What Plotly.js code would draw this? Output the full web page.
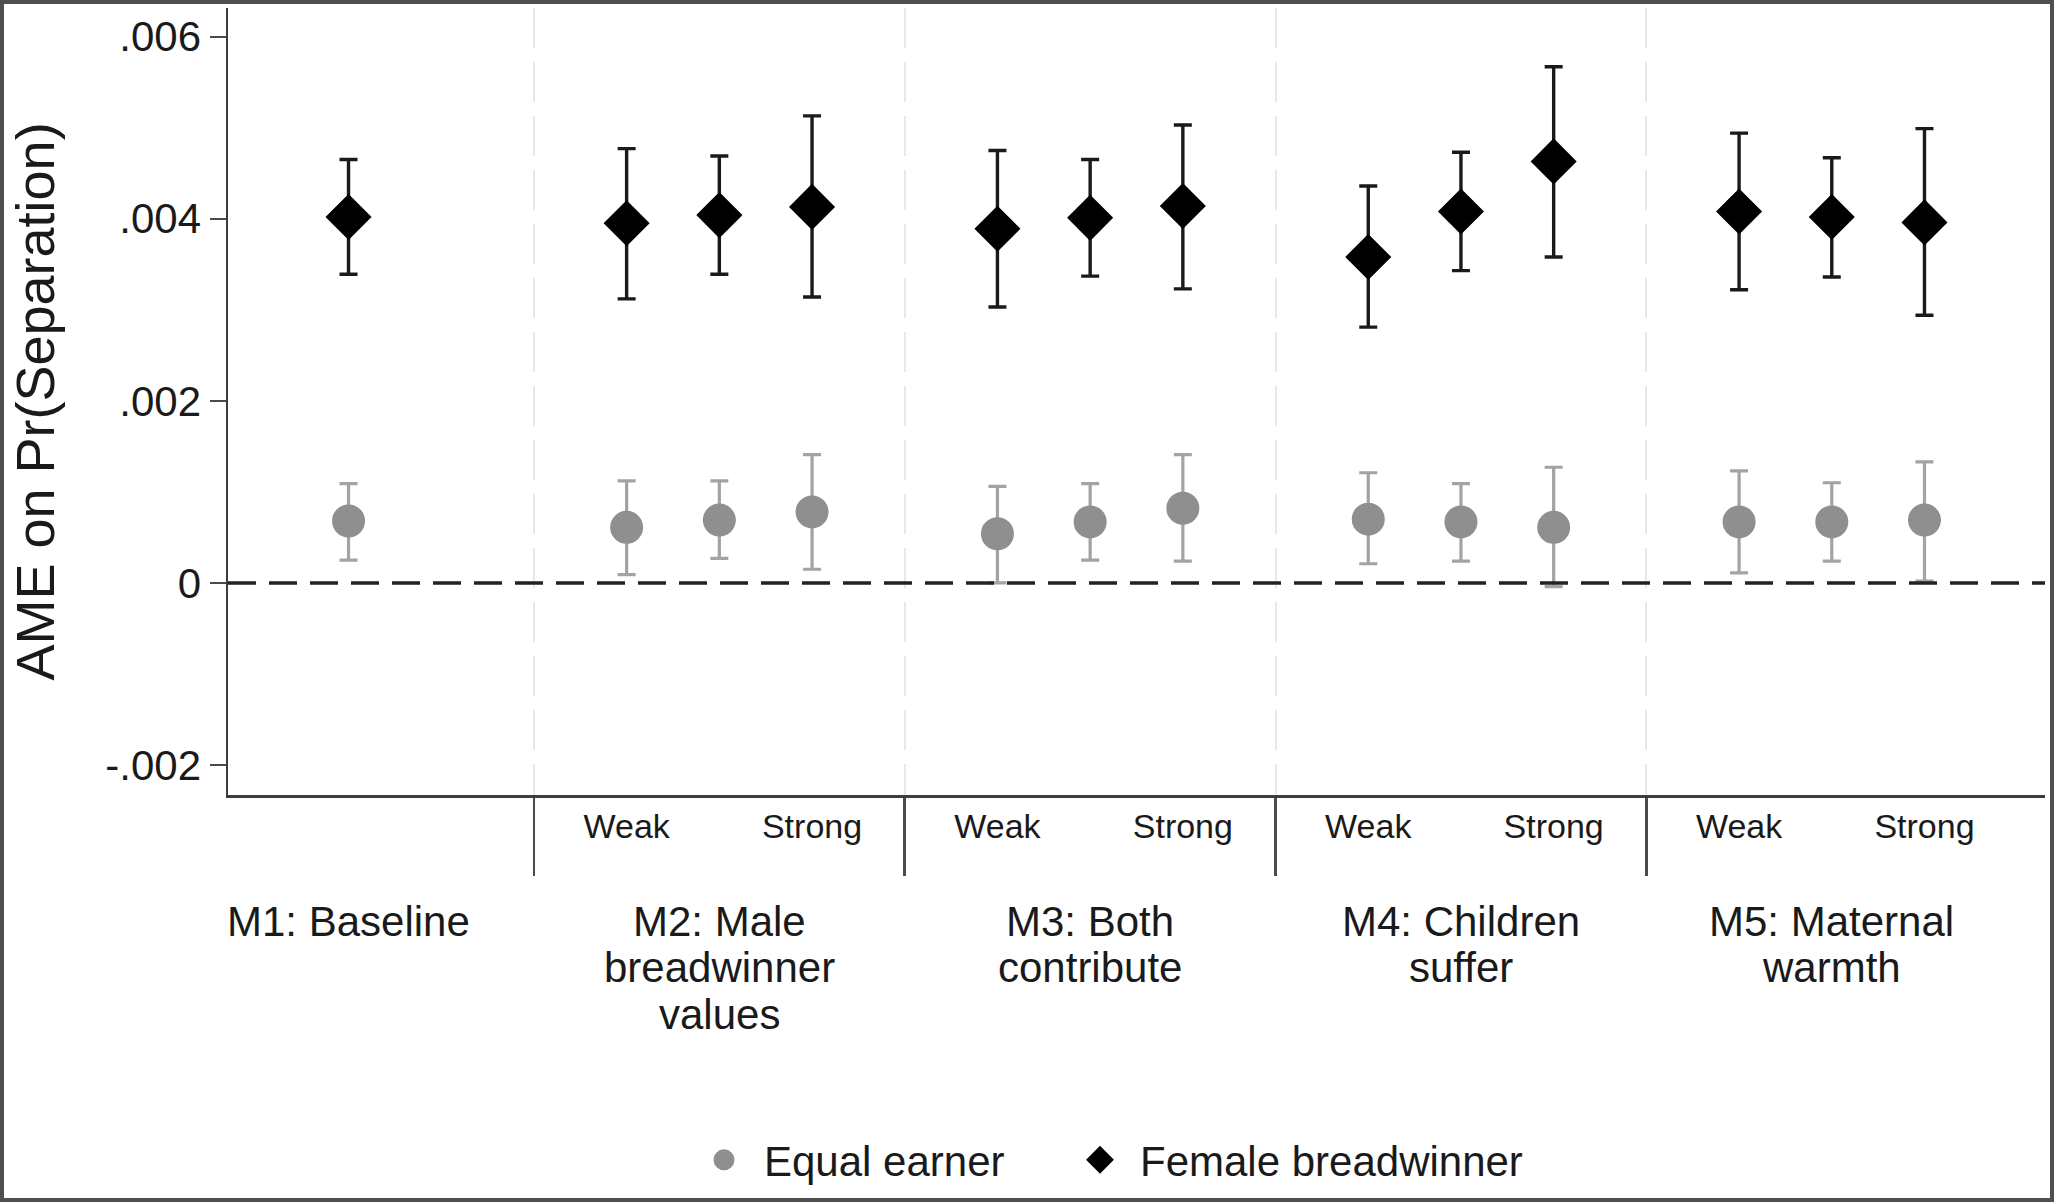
<!DOCTYPE html>
<html>
<head>
<meta charset="utf-8">
<script src="https://cdn.plot.ly/plotly-3.0.1.min.js"></script>
<style>
  html, body { margin: 0; padding: 0; background: #fff; }
  #chart { width: 2054px; height: 1202px; }
  #frame { position: absolute; left: 0; top: 0; width: 2054px; height: 1202px;
           box-sizing: border-box; border: 4px solid #4f4f4f; pointer-events: none; }
</style>
</head>
<body>
<div id="chart"></div>
<div id="frame"></div>
<script>
// model groups, each label split in the lines used in the figure
var groupLabels = [
  ["M1: Baseline"],
  ["M2: Male", "breadwinner", "values"],
  ["M3: Both", "contribute"],
  ["M4: Children", "suffer"],
  ["M5: Maternal", "warmth"]
];
// attitude strength inside M2-M5 (middle one has no label)
var strengthLevels = ["Weak", "", "Strong"];

// y axis ticks
var yTickVals = [0.006, 0.004, 0.002, 0, -0.002];
var yTickText = [".006", ".004", ".002", "0", "-.002"];

// order: M1, M2 weak/mid/strong, M3 ..., M4 ..., M5 ...
var equalEst = [0.00068, 0.00061, 0.00069, 0.00078, 0.00054, 0.00067, 0.00082, 0.00070, 0.00067, 0.00061, 0.00067, 0.00067, 0.00069];
var equalLo  = [0.00025, 0.00009, 0.00027, 0.00015, 0.00000, 0.00025, 0.00024, 0.00021, 0.00024, -0.00004, 0.00011, 0.00024, 0.00002];
var equalHi  = [0.00109, 0.00112, 0.00112, 0.00141, 0.00106, 0.00109, 0.00141, 0.00121, 0.00109, 0.00127, 0.00123, 0.00110, 0.00133];

var femaleEst = [0.00402, 0.00395, 0.00404, 0.00413, 0.00389, 0.00401, 0.00414, 0.00358, 0.00408, 0.00463, 0.00408, 0.00402, 0.00396];
var femaleLo  = [0.00339, 0.00312, 0.00339, 0.00314, 0.00303, 0.00337, 0.00323, 0.00281, 0.00343, 0.00358, 0.00322, 0.00336, 0.00294];
var femaleHi  = [0.00465, 0.00477, 0.00469, 0.00513, 0.00475, 0.00465, 0.00503, 0.00436, 0.00473, 0.00567, 0.00494, 0.00467, 0.00499];

var seriesNames = ["Equal earner", "Female breadwinner"];

// x slot of each estimate: group g sits around 4*g, strength levels one step apart
var xPos = [], tickVals = [], tickText = [], dividers = [];
groupLabels.forEach(function(lab, g){
    if (g == 0){
        xPos.push(0);
        return;
    }
    dividers.push(4*g - 2);
    strengthLevels.forEach(function(s, j){
        var p = 4*g - 1 + j;
        xPos.push(p);
        if (s != ""){
            tickVals.push(p);
            tickText.push(s);
        }
    });
});

var font = "Liberation Sans, Arial, sans-serif";
var ink = "#1a1a1a";

var diff = function(a, b){
    return a.map(function(v, i){ return v - b[i]; });
};

var equal = {
    x: xPos, y: equalEst, name: seriesNames[0], legend: "legend",
    type: "scatter", mode: "markers",
    marker: { symbol: "circle", size: 28, color: "#8f8f8f", line: { color: "#8f8f8f", width: 5 } },
    error_y: { type: "data", symmetric: false, array: diff(equalHi, equalEst), arrayminus: diff(equalEst, equalLo),
               color: "#a3a3a3", thickness: 3.2, width: 9 }
};
var female = {
    x: xPos, y: femaleEst, name: seriesNames[1], legend: "legend2",
    type: "scatter", mode: "markers",
    marker: { symbol: "diamond", size: 30, color: "#000", line: { color: "#000", width: 5 } },
    error_y: { type: "data", symmetric: false, array: diff(femaleHi, femaleEst), arrayminus: diff(femaleEst, femaleLo),
               color: "#1a1a1a", thickness: 3.4, width: 9 }
};

// plot area in px, used to turn label rows into paper coords
var plotLeft = 228, plotRight = 2045, plotTop = 8, plotBottom = 795;
var plotH = plotBottom - plotTop, plotW = plotRight - plotLeft;
var toPaperY = function(px){ return (plotBottom - px) / plotH; };
var toPaperX = function(px){ return (px - plotLeft) / plotW; };

var annotations = [];
groupLabels.forEach(function(lines, g){
    lines.forEach(function(t, i){
        annotations.push({
            x: 4*g, xref: "x", y: toPaperY(921 + 46.5*i), yref: "paper",
            text: t, showarrow: false, xanchor: "center", yanchor: "middle",
            font: { family: font, size: 42, color: ink }
        });
    });
});

var legendStyle = function(leftPx){
    return {
        orientation: "h", x: toPaperX(leftPx), xanchor: "left", y: toPaperY(1160), yanchor: "middle",
        font: { family: font, size: 42, color: ink }, itemwidth: 70, bgcolor: "rgba(0,0,0,0)"
    };
};

var layout = {
    width: 2054, height: 1202,
    margin: { l: plotLeft, r: 2054 - plotRight, t: plotTop, b: 1202 - plotBottom },
    paper_bgcolor: "#fff", plot_bgcolor: "#fff",
    font: { family: font, color: ink },
    showlegend: true,
    legend: legendStyle(684),
    legend2: legendStyle(1060),
    xaxis: {
        range: [-1.3, 18.3], showgrid: false, zeroline: false,
        showline: true, linecolor: "#3c3c3c", linewidth: 2.5,
        tickmode: "array", tickvals: tickVals, ticktext: tickText, ticks: "",
        tickfont: { family: font, size: 34, color: ink }, ticklabelstandoff: 0,
        minor: { tickmode: "array", tickvals: dividers, ticks: "outside", ticklen: 78, tickwidth: 2.5,
                 tickcolor: "#4a4a4a", showgrid: true, gridcolor: "#e8e8e8", gridwidth: 2, griddash: "40px,14px" }
    },
    yaxis: {
        range: [-0.00233, 0.006315], showgrid: false, zeroline: false,
        showline: true, linecolor: "#3c3c3c", linewidth: 2.5,
        tickmode: "array", tickvals: yTickVals, ticktext: yTickText,
        ticks: "outside", ticklen: 16, tickwidth: 2, tickcolor: "#4a4a4a",
        tickfont: { family: font, size: 42, color: ink },
        title: { text: "AME on Pr(Separation)", font: { family: font, size: 54, color: ink }, standoff: 34 }
    },
    shapes: [{
        type: "line", xref: "paper", x0: 0, x1: 1, yref: "y", y0: 0, y1: 0,
        line: { color: "#222", width: 3.5, dash: "28px,13px" }
    }],
    annotations: annotations
};

Plotly.newPlot("chart", [equal, female], layout, { staticPlot: true });
</script>
</body>
</html>
